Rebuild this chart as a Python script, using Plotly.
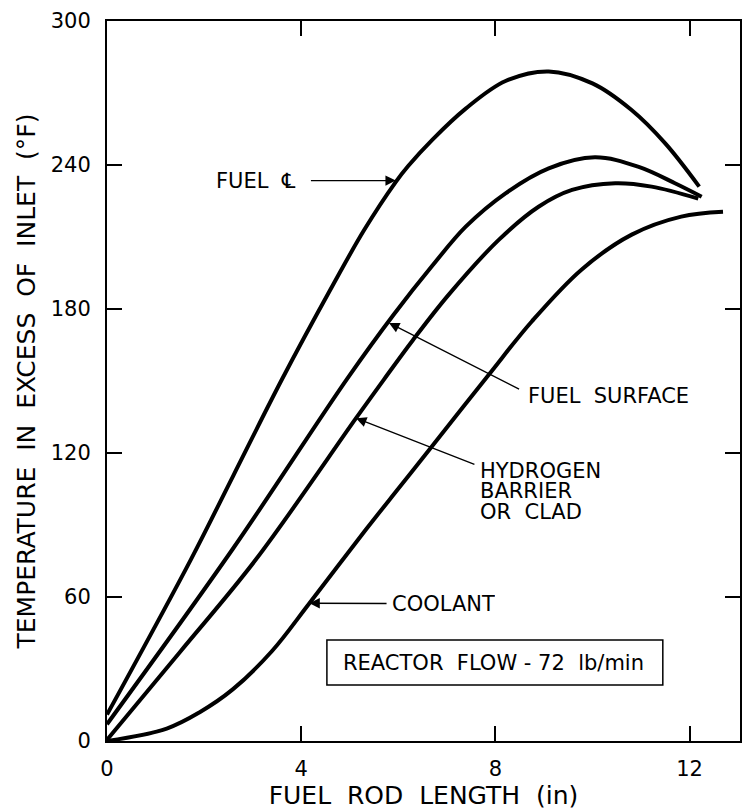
import plotly.graph_objects as go

# Fuel rod temperature profiles, degrees F above inlet, vs. axial position (in)
fuel_cl_x = [0.0, 1.73, 2.6, 3.6, 4.6, 5.3, 5.95, 6.2, 6.7, 7.39, 8.21, 9.1, 10.0, 10.8, 11.5, 12.2]
fuel_cl_y = [11.0, 75.7, 110.5, 150.5, 188.0, 213.0, 233.0, 239.5, 250.5, 263.5, 275.0, 279.0, 274.0, 263.0, 249.0, 231.0]

fuel_surf_x = [0.0, 2.59, 4.95, 5.9, 6.7, 7.39, 8.21, 9.1, 10.05, 10.94, 11.7, 12.25]
fuel_surf_y = [7.0, 80.0, 151.0, 177.5, 198.0, 214.3, 228.2, 238.6, 243.2, 239.3, 232.4, 226.8]

clad_x = [0.0, 1.5, 3.07, 5.13, 5.7, 6.3, 7.04, 8.07, 8.89, 9.58, 10.47, 11.22, 12.18]
clad_y = [0.5, 37.0, 75.7, 134.5, 150.5, 167.0, 186.0, 208.8, 222.6, 229.6, 232.4, 231.0, 226.0]

coolant_x = [0.0, 1.23, 1.91, 2.59, 3.4, 4.17, 5.33, 6.02, 6.7, 7.86, 8.75, 9.78, 10.81, 11.83, 12.69]
coolant_y = [0.0, 5.2, 12.0, 21.5, 37.5, 57.4, 88.0, 105.6, 122.9, 152.5, 174.8, 196.5, 211.0, 218.5, 220.5]

x_ticks = [0, 4, 8, 12]
y_ticks = [0, 60, 120, 180, 240, 300]

FONT = "DejaVu Sans"
INK = "black"
GAP = "\u00a0 "  # word spacing of the stencil lettering

fig = go.Figure()
for xs, ys in [(fuel_cl_x, fuel_cl_y), (fuel_surf_x, fuel_surf_y),
               (clad_x, clad_y), (coolant_x, coolant_y)]:
    fig.add_trace(go.Scatter(
        x=xs, y=ys, mode="lines",
        line=dict(color=INK, width=4, shape="spline", smoothing=1.0),
        hoverinfo="skip", showlegend=False,
    ))

axis_common = dict(
    showline=True, linecolor=INK, linewidth=2, mirror="ticks",
    ticks="inside", ticklen=15, tickwidth=2, tickcolor=INK,
    showgrid=False, zeroline=False,
    tickfont=dict(family=FONT, size=21, color=INK),
)

fig.update_xaxes(
    range=[0, 13.04], tickvals=x_ticks, ticktext=[str(v) for v in x_ticks],
    title=dict(text=GAP.join(["FUEL", "ROD", "LENGTH", "(in)"]),
               font=dict(family=FONT, size=25, color=INK), standoff=1),
    ticklabelstandoff=8,
    **axis_common,
)
fig.update_yaxes(
    range=[0, 300], tickvals=y_ticks, ticktext=[str(v) for v in y_ticks],
    title=dict(text=GAP.join(["TEMPERATURE", "IN", "EXCESS", "OF", "INLET", "(°F)"]),
               font=dict(family=FONT, size=25, color=INK), standoff=8),
    ticklabelstandoff=10,
    **axis_common,
)

label_font = dict(family=FONT, size=21, color=INK)

# Callout arrows pointing at each curve
arrows = [
    (4.17, 233.5, 5.95, 233.5),
    (8.52, 146.3, 5.81, 174.2),
    (7.60, 115.0, 5.13, 134.5),
    (5.79, 57.3, 4.17, 57.4),
]
for ax_, ay_, x_, y_ in arrows:
    fig.add_annotation(
        x=x_, y=y_, ax=ax_, ay=ay_, xref="x", yref="y", axref="x", ayref="y",
        text="", showarrow=True, arrowhead=2, arrowsize=1.6, arrowwidth=1.3,
        arrowcolor=INK, standoff=0, startstandoff=0,
    )

labels = [
    ("FUEL\u00a0 \u2104", 2.22, 233.5),
    ("FUEL\u00a0 SURFACE", 8.645, 144.0),
    ("HYDROGEN", 7.66, 112.7),
    ("BARRIER", 7.66, 104.4),
    ("OR\u00a0 CLAD", 7.66, 95.8),
    ("COOLANT", 5.85, 57.1),
]
for txt, x_, y_ in labels:
    fig.add_annotation(
        x=x_, y=y_, xref="x", yref="y", text=txt, showarrow=False,
        xanchor="left", yanchor="middle", font=label_font,
        height=19, valign="middle", borderpad=0,
    )

# Boxed flow-rate note
fig.add_shape(type="rect", xref="x", yref="y", x0=4.53, x1=11.45, y0=23.3, y1=42.1,
              line=dict(color=INK, width=1.5), fillcolor="white", layer="below")
fig.add_annotation(
    x=7.97, y=32.6, xref="x", yref="y", text="REACTOR\u00a0 FLOW - 72\u00a0 lb/min",
    showarrow=False, xanchor="center", yanchor="middle", font=label_font,
)

fig.update_layout(
    width=747, height=812,
    margin=dict(l=107, r=5, t=21, b=71),
    paper_bgcolor="white", plot_bgcolor="white",
    font=dict(family=FONT, color=INK),
)

fig.write_html("out.html")
